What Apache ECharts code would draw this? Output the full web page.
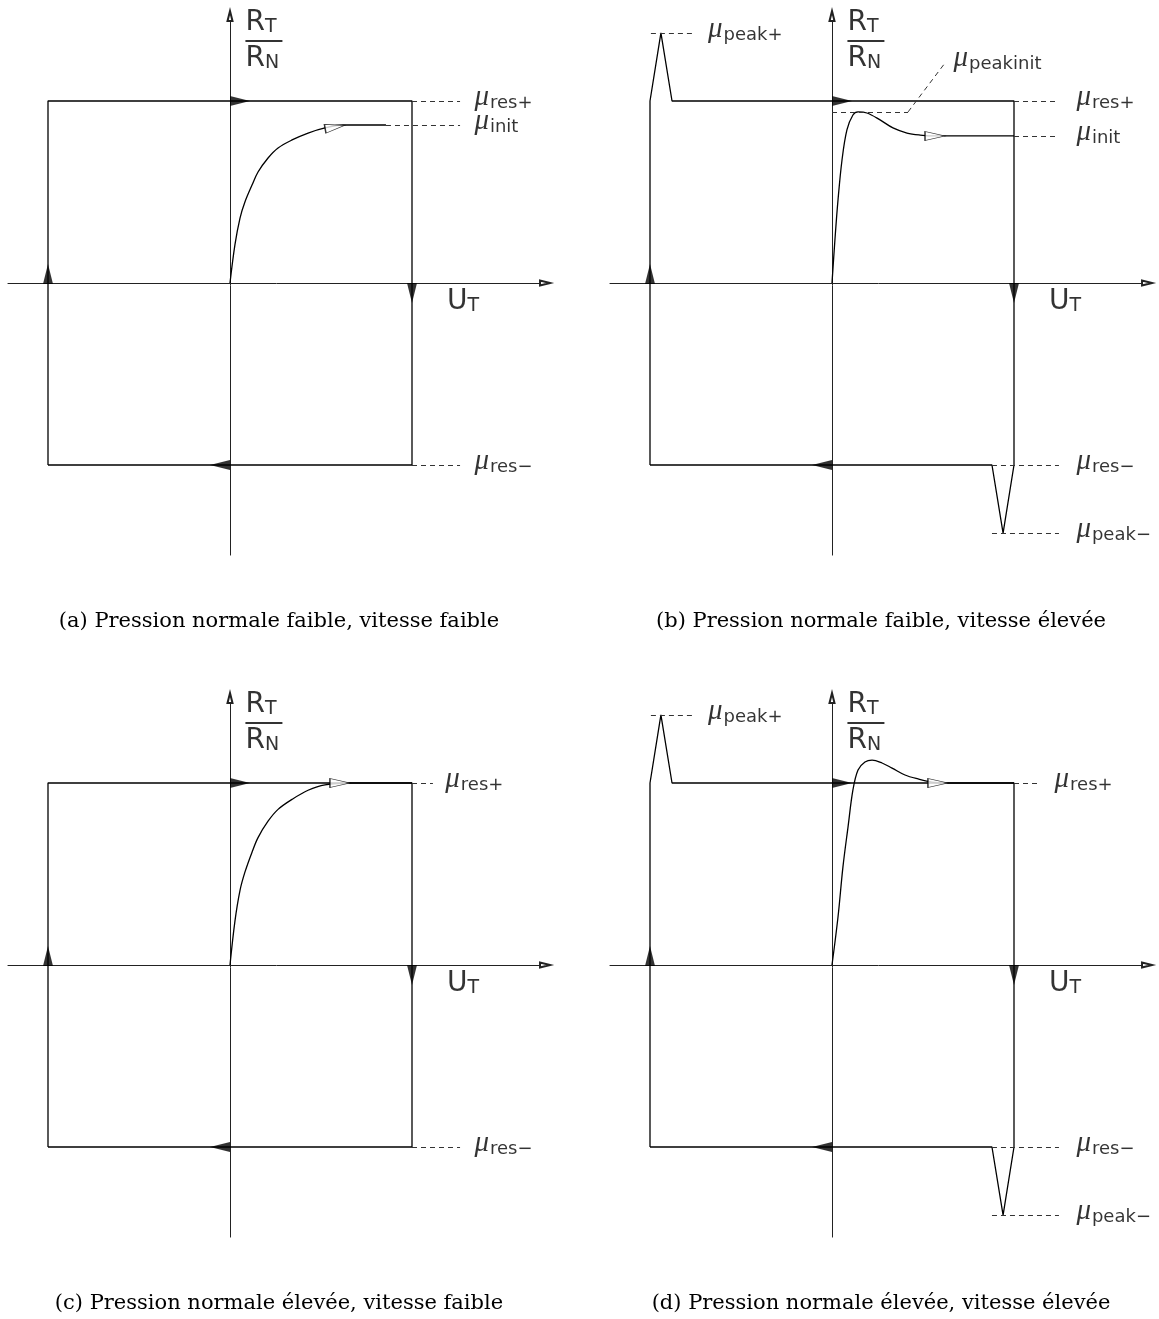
<!DOCTYPE html>
<html>
<head>
<meta charset="utf-8">
<script src="https://cdn.jsdelivr.net/npm/echarts@6/dist/echarts.min.js"></script>
<style>
  html, body { margin: 0; padding: 0; background: #fff; }
  #chart { width: 1159px; height: 1319px; }
</style>
</head>
<body>
<div id="chart"></div>
<script>
// Friction law sketches: R_T / R_N against tangential displacement U_T,
// for low / high normal pressure and low / high sliding speed.

// ---- characteristic friction levels ----
const muResPos = 1;
const muResNeg = -1;
const muPeakPos = 1.374;
const muPeakNeg = -1.374;
const muInitA = 0.868;
const muInitB = 0.808;
const muPeakInitB = 0.94;

// ---- hysteresis loops (U_T, R_T/R_N) ----
const loopPlain = [[-1, -1], [-1, 1], [1, 1], [1, -1], [-1, -1]];
const loopPeak = [[-1, -1], [-1, 1], [-0.94, 1.374], [-0.879, 1], [1, 1],
                  [1, -1], [0.94, -1.374], [0.879, -1], [-1, -1]];

// ---- first-loading curves ----
const curveA = [[0, 0], [0.027, 0.209], [0.055, 0.357], [0.082, 0.445], [0.121, 0.538],
                [0.154, 0.610], [0.209, 0.687], [0.264, 0.742], [0.341, 0.786],
                [0.429, 0.824], [0.522, 0.852], [0.621, 0.868], [0.857, 0.868]];
const curveB = [[0, 0], [0.016, 0.236], [0.033, 0.456], [0.055, 0.676], [0.082, 0.841],
                [0.115, 0.923], [0.143, 0.940], [0.192, 0.934], [0.264, 0.896],
                [0.335, 0.852], [0.412, 0.824], [0.484, 0.813], [0.566, 0.808],
                [0.621, 0.808], [1, 0.808]];
const curveC = [[0, 0], [0.027, 0.24], [0.055, 0.41], [0.082, 0.51], [0.121, 0.62],
                [0.154, 0.70], [0.209, 0.79], [0.264, 0.855], [0.341, 0.91],
                [0.429, 0.96], [0.522, 0.99], [0.66, 1.0], [1, 1.0]];
const curveD = [[0, 0], [0.033, 0.264], [0.060, 0.538], [0.088, 0.758], [0.115, 0.962],
                [0.143, 1.071], [0.181, 1.115], [0.220, 1.126], [0.275, 1.110],
                [0.330, 1.082], [0.401, 1.044], [0.473, 1.022], [0.549, 1.005],
                [0.637, 1.0], [1, 1.0]];

const captions = [
  '(a) Pression normale faible, vitesse faible',
  '(b) Pression normale faible, vitesse élevée',
  '(c) Pression normale élevée, vitesse faible',
  '(d) Pression normale élevée, vitesse élevée'
];

// ---- layout ----
const UNIT = 182;                 // pixels per unit on both axes
const X_EXT = [-1.22, 1.731];
const Y_EXT = [-1.495, 1.467];
const origins = [[230, 283], [832, 283], [230, 965], [832, 965]];
const captionY = [622, 622, 1304, 1304];
const LABEL_LIFT = 0.02;          // raises the mu labels onto their reference level

// direction of travel marks on the loop: [x, y, rotation]
const loopArrows = [[0.055, 1, -90], [-1, 0.05, 0], [1, -0.055, 180], [-0.055, -1, 90]];

const SANS = '"DejaVu Sans", sans-serif';
const rich = {
  mu: { fontFamily: '"Liberation Serif", serif', fontStyle: 'italic', fontSize: 29, color: '#000' },
  sub: { fontFamily: SANS, fontSize: 18, color: '#000', padding: [12, 0, 0, 1] },
  big: { fontFamily: SANS, fontSize: 28, color: '#000', lineHeight: 28 },
  bs: { fontFamily: SANS, fontSize: 19, color: '#000', lineHeight: 28, padding: [8, 0, 0, 0] },
  bar: { width: 37, height: 2, lineHeight: 8, backgroundColor: '#000' }
};
const mu = (s) => '{mu|μ}{sub|' + s + '}';
const FRACTION = '{big|R}{bs|T}\n{bar|}\n{big|R}{bs|N}';
const UT = '{big|U}{bs|T}';

// per-panel content
const panels = [
  {
    loop: loopPlain, curve: curveA, hollow: [0.577, 0.857, -80],
    guides: [[1, 1.264, muResPos], [0.857, 1.264, muInitA], [1, 1.264, muResNeg]],
    labels: [[1.34, muResPos, mu('res+')], [1.34, muInitA, mu('init')], [1.34, muResNeg, mu('res−')]]
  },
  {
    loop: loopPeak, curve: curveB, hollow: [0.566, muInitB, -90],
    guides: [[1, 1.247, muResPos], [1, 1.247, muInitB], [0.879, 1.247, muResNeg],
             [0.879, 1.247, muPeakNeg], [-0.995, -0.769, muPeakPos],
             [0, 0.418, muPeakInitB]],
    diag: [[0.418, muPeakInitB], [0.621, 1.209]],
    labels: [[1.34, muResPos, mu('res+')], [1.34, muInitB, mu('init')], [1.34, muResNeg, mu('res−')],
             [1.34, muPeakNeg, mu('peak−')], [-0.684, muPeakPos, mu('peak+')],
             [0.665, 1.214, mu('peakinit')]]
  },
  {
    loop: loopPlain, curve: curveC, hollow: [0.604, 1, -90],
    guides: [[1, 1.115, muResPos], [1, 1.264, muResNeg]],
    labels: [[1.18, muResPos, mu('res+')], [1.34, muResNeg, mu('res−')]]
  },
  {
    loop: loopPeak, curve: curveD, hollow: [0.582, 1, -90],
    guides: [[1, 1.13, muResPos], [0.879, 1.247, muResNeg], [0.879, 1.247, muPeakNeg],
             [-0.995, -0.769, muPeakPos]],
    labels: [[1.22, muResPos, mu('res+')], [1.34, muResNeg, mu('res−')],
             [1.34, muPeakNeg, mu('peak−')], [-0.684, muPeakPos, mu('peak+')]]
  }
];

const grid = [], xAxis = [], yAxis = [], series = [], graphic = [];

panels.forEach((p, i) => {
  const [ox, oy] = origins[i];
  grid.push({
    left: ox + X_EXT[0] * UNIT,
    top: oy - Y_EXT[1] * UNIT,
    width: (X_EXT[1] - X_EXT[0]) * UNIT,
    height: (Y_EXT[1] - Y_EXT[0]) * UNIT,
    containLabel: false
  });
  const axisCommon = {
    type: 'value', gridIndex: i,
    axisTick: { show: false }, axisLabel: { show: false }, splitLine: { show: false },
    axisLine: {
      show: true, onZero: true,
      lineStyle: { color: '#222', width: 1 },
      symbol: ['none', 'emptyTriangle'], symbolSize: [5, 10]
    }
  };
  xAxis.push(Object.assign({}, axisCommon, { min: X_EXT[0], max: X_EXT[1] }));
  yAxis.push(Object.assign({}, axisCommon, { min: Y_EXT[0], max: Y_EXT[1] }));

  const guideLines = p.guides.map(g => [{ coord: [g[0], g[2]] }, { coord: [g[1], g[2]] }]);
  if (p.diag) guideLines.push([{ coord: p.diag[0] }, { coord: p.diag[1] }]);

  // loop with dashed reference levels
  series.push({
    type: 'line', xAxisIndex: i, yAxisIndex: i, data: p.loop,
    symbol: 'none', silent: true, z: 3,
    lineStyle: { color: '#000', width: 1.3 },
    markLine: {
      silent: true, symbol: ['none', 'none'], label: { show: false },
      lineStyle: { type: [5, 4], color: '#333', width: 1 },
      data: guideLines
    }
  });
  // first loading curve
  series.push({
    type: 'line', xAxisIndex: i, yAxisIndex: i, data: p.curve,
    symbol: 'none', silent: true, smooth: 0.35, z: 3,
    lineStyle: { color: '#000', width: 1.3 }
  });
  // solid direction marks on the loop
  series.push({
    type: 'scatter', xAxisIndex: i, yAxisIndex: i, silent: true, z: 5,
    symbol: 'triangle', symbolSize: [10, 20],
    itemStyle: { color: '#000' },
    data: loopArrows.map(a => ({ value: [a[0], a[1]], symbolRotate: a[2] }))
  });
  // hollow mark on the loading curve
  series.push({
    type: 'scatter', xAxisIndex: i, yAxisIndex: i, silent: true, z: 6,
    symbol: 'triangle', symbolSize: [9, 20],
    itemStyle: { color: '#fff', borderColor: '#000', borderWidth: 1 },
    data: [{ value: [p.hollow[0], p.hollow[1]], symbolRotate: p.hollow[2] }]
  });
  // text annotations
  const ann = p.labels.map(l => ({ value: [l[0], l[1] + LABEL_LIFT], label: { formatter: l[2] } }));
  ann.push({ value: [0.082, 1.33], label: { formatter: FRACTION } });
  ann.push({ value: [1.19, -0.104], label: { formatter: UT } });
  series.push({
    type: 'scatter', xAxisIndex: i, yAxisIndex: i, silent: true, z: 7,
    symbolSize: 1, itemStyle: { color: 'rgba(0,0,0,0)' },
    label: { show: true, position: 'right', distance: 0, color: '#000', rich: rich },
    data: ann
  });

  graphic.push({
    type: 'text', x: ox + 49, y: captionY[i], silent: true,
    style: {
      text: captions[i], fill: '#000', fontSize: 21, fontFamily: '"DejaVu Serif", serif',
      textAlign: 'center', textVerticalAlign: 'middle', verticalAlign: 'middle'
    }
  });
});

const chart = echarts.init(document.getElementById('chart'), null, { renderer: 'canvas' });
chart.setOption({
  animation: false,
  backgroundColor: '#fff',
  grid, xAxis, yAxis, series, graphic
});
</script>
</body>
</html>
